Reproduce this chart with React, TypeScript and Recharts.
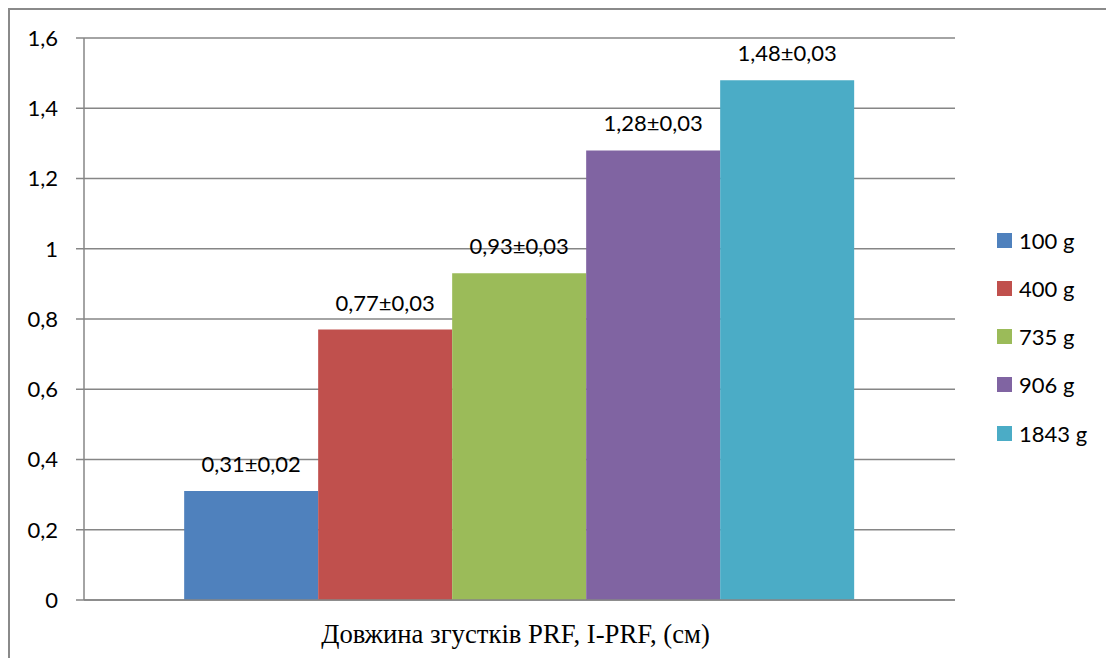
import React from "react";
import { BarChart, Bar, XAxis, YAxis, CartesianGrid, Legend, LabelList } from "recharts";

const categories = ["Довжина згустків PRF, I-PRF, (см)"];
const seriesNames = ["100 g", "400 g", "735 g", "906 g", "1843 g"];
const seriesKeys = ["g100", "g400", "g735", "g906", "g1843"];
const seriesValues = [0.31, 0.77, 0.93, 1.28, 1.48];
const seriesErrors = [0.02, 0.03, 0.03, 0.03, 0.03];
const seriesColors = ["#4F81BD", "#C0504D", "#9BBB59", "#8064A2", "#4BACC6"];
const yTicks = [0, 0.2, 0.4, 0.6, 0.8, 1, 1.2, 1.4, 1.6];
const edgeTicks = [0, 1];

const comma = (v: number) => String(v).replace(".", ",");
const fmt2 = (v: number) => v.toFixed(2).replace(".", ",");

const data = categories.map((name) => {
  const row: Record<string, string | number> = { name };
  seriesKeys.forEach((k, i) => {
    row[k] = seriesValues[i];
  });
  return row;
});

const FONT = "Lato, 'Liberation Sans', sans-serif";
const AXIS = "#868686";

const LegendContent = () => (
  <div style={{ fontFamily: FONT, fontSize: 22, color: "#000" }}>
    {seriesNames.map((n, i) => (
      <div key={n} style={{ height: 48.25, display: "flex", alignItems: "center" }}>
        <span style={{ width: 15, height: 15, background: seriesColors[i], display: "inline-block", marginRight: 7 }} />
        <span>{n}</span>
      </div>
    ))}
  </div>
);

export default function App() {
  return (
    <div
      style={{
        width: 1104,
        height: 648,
        borderTop: "2px solid #8a8a8a",
        borderLeft: "2px solid #8a8a8a",
        background: "#fff",
      }}
    >
      <BarChart
        width={1104}
        height={648}
        data={data}
        margin={{ top: 28, right: 159, bottom: 0, left: 0 }}
        barCategoryGap="11.5%"
        barGap={0}
      >
        <CartesianGrid xAxisId="cat" vertical={false} stroke={AXIS} strokeWidth={1.3} />
        <XAxis xAxisId="cat" dataKey="name" hide height={0} />
        <XAxis
          xAxisId="edge"
          type="number"
          domain={[0, 1]}
          ticks={edgeTicks}
          allowDataOverflow
          height={58}
          tick={false}
          tickSize={7}
          axisLine={{ stroke: AXIS, strokeWidth: 1.5 }}
          tickLine={{ stroke: AXIS, strokeWidth: 1.5 }}
          label={{
            value: categories[0],
            position: "insideBottom",
            offset: 15,
            dx: -4,
            fill: "#000",
            fontSize: 26.7,
            fontFamily: "'Liberation Serif', 'Times New Roman', serif",
          }}
        />
        <YAxis
          width={74}
          domain={[0, 1.6]}
          ticks={yTicks}
          tickFormatter={comma}
          tickSize={8}
          tickMargin={18}
          axisLine={{ stroke: AXIS, strokeWidth: 1.5 }}
          tickLine={{ stroke: AXIS, strokeWidth: 1.5 }}
          tick={{ fill: "#000", fontSize: 22, fontFamily: FONT }}
        />
        <Legend
          layout="vertical"
          align="center"
          verticalAlign="middle"
          content={() => <LegendContent />}
          wrapperStyle={{ left: 987, top: 206, width: "auto" }}
        />
        {seriesKeys.map((k, i) => (
          <Bar key={k} xAxisId="cat" dataKey={k} name={seriesNames[i]} fill={seriesColors[i]} isAnimationActive={false}>
            <LabelList
              dataKey={k}
              position="top"
              offset={19}
              formatter={(v: number) => `${fmt2(v)}±${fmt2(seriesErrors[i])}`}
              fill="#000"
              fontSize={22}
              fontFamily={FONT}
            />
          </Bar>
        ))}
      </BarChart>
    </div>
  );
}
